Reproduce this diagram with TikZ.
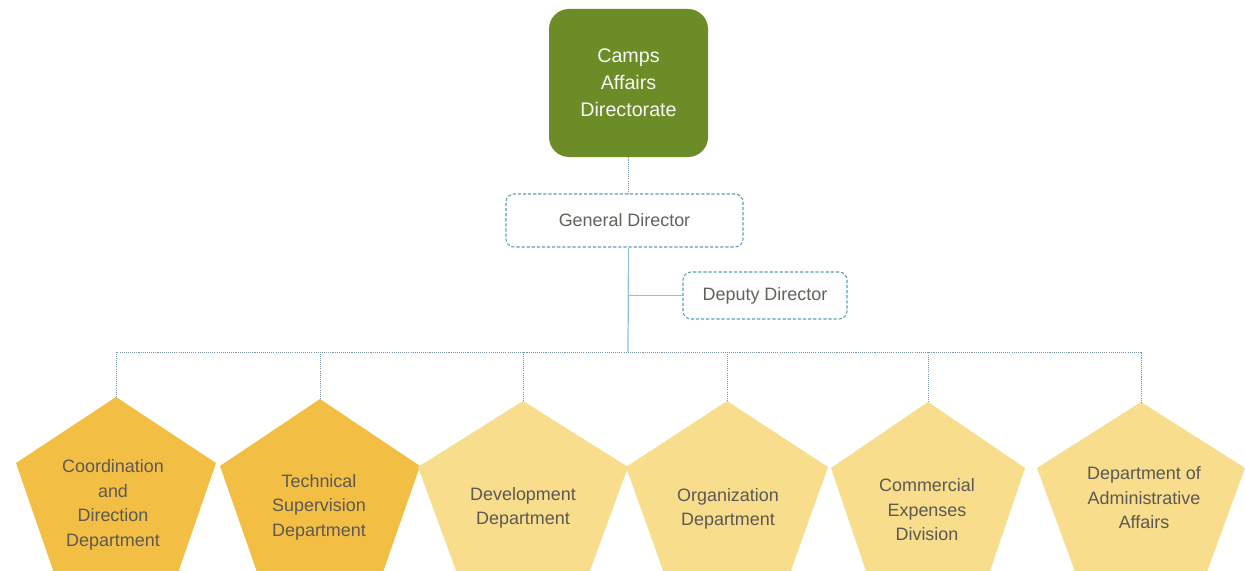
\documentclass[tikz,border=0pt]{standalone}
\usepackage{fontspec}
\setmainfont{Liberation Sans}

\definecolor{campgreen}{RGB}{107,140,38}
\definecolor{deptdark}{RGB}{242,191,68}
\definecolor{deptlight}{RGB}{247,221,140}
\definecolor{boxline}{RGB}{88,160,184}
\definecolor{busline}{RGB}{120,150,165}
\definecolor{stemline}{RGB}{140,196,212}
\definecolor{labelgray}{RGB}{100,96,90}

\tikzset{
  directorate/.style = {fill=campgreen, rounded corners=4mm, text=white!95!campgreen,
    align=center, minimum width=31.8mm, minimum height=29.6mm,
    font=\fontsize{11.2}{15.3}\selectfont},
  office/.style = {draw=boxline, line width=0.6pt, dash pattern=on 1.8pt off 1.1pt,
    rounded corners=1.6mm, text=labelgray},
  dept/.style = {align=center, text=labelgray!92!black},
  dotline/.style = {busline, line width=0.5pt, dash pattern=on 0.6pt off 0.6pt},
  stem/.style = {stemline, line width=0.7pt}
}

\begin{document}
\begin{tikzpicture}[x=0.2mm, y=-0.2mm, font=\fontsize{10.2}{13.9}\selectfont]
    \clip (0,0) rectangle (1245,571);
    \fill[white] (0,0) rectangle (1245,571);

    \node[directorate] (camps) at (628.5,83) {Camps\\Affairs\\Directorate};
    \node[office, minimum width=47.4mm, minimum height=10.6mm] (gendir) at (624.5,220.5) {General Director};
    \node[office, minimum width=32.8mm, minimum height=9.4mm] (deputy) at (765,295.5) {Deputy Director};
    \coordinate (hub) at (628,352);

    \fill[deptdark]  (116,397) coordinate (top1) -- ++(100,66) -- ++(-38,110) -- ++(-124,0) -- ++(-38,-110) -- cycle;
    \fill[deptdark]  (320,399) coordinate (top2) -- ++(100,67) -- ++(-38,109) -- ++(-124,0) -- ++(-38,-109) -- cycle;
    \fill[deptlight] (523,401) coordinate (top3) -- ++(105,66) -- ++(-40,109) -- ++(-130,0) -- ++(-40,-109) -- cycle;
    \fill[deptlight] (727,401) coordinate (top4) -- ++(101,66) -- ++(-39,109) -- ++(-124,0) -- ++(-39,-109) -- cycle;
    \fill[deptlight] (928,402) coordinate (top5) -- ++(97,66) -- ++(-37,109) -- ++(-120,0) -- ++(-37,-109) -- cycle;
    \fill[deptlight] (1141,402) coordinate (top6) -- ++(104,66) -- ++(-40,109) -- ++(-128,0) -- ++(-40,-109) -- cycle;

    \node[dept] (coord) at (113,505) {Coordination\\and\\Direction\\Department};
    \node[dept] (techsup) at (319,507) {Technical\\Supervision\\Department};
    \node[dept] (devel) at (523,508) {Development\\Department};
    \node[dept] (organiz) at (728,509) {Organization\\Department};
    \node[dept] (commerc) at (927,510) {Commercial\\Expenses\\Division};
    \node[dept] (admin) at (1144,498) {Department of\\Administrative\\Affairs};

    \draw[dotline] (camps.south) -- (camps.south |- gendir.north);
    \draw[stem] (camps.south |- gendir.south) -- (hub);
    \draw[stem] (camps.south |- deputy.west) -- (deputy.west);

    \draw[dotline] (top1) |- (hub) -| (top6);
    \draw[dotline] (top2) -- (top2 |- hub);
    \draw[dotline] (top3) -- (top3 |- hub);
    \draw[dotline] (top4) -- (top4 |- hub);
    \draw[dotline] (top5) -- (top5 |- hub);
\end{tikzpicture}
\end{document}
